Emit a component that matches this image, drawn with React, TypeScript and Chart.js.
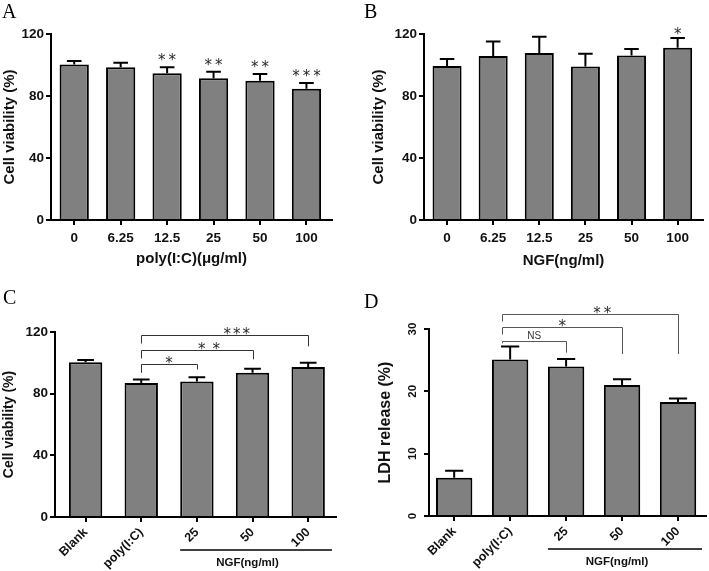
import React, { useEffect, useRef } from 'react';
import { Chart, registerables } from 'chart.js';

Chart.register(...registerables);

// ---------- data ----------
const doseLabels = ['0', '6.25', '12.5', '25', '50', '100'];

const polyMeans = [100.4, 98.5, 94.6, 91.4, 89.9, 84.6];
const polyErrors = [2.2, 3.0, 3.9, 4.3, 4.3, 3.8];
const polyStars = ['', '', '**', '**', '**', '***'];

const ngfMeans = [99.4, 105.8, 107.7, 99.1, 106.2, 111.2];
const ngfErrors = [4.4, 9.3, 10.6, 8.2, 4.1, 6.2];
const ngfStars = ['', '', '', '', '', '*'];

const groupLabels = ['Blank', 'poly(I:C)', '25', '50', '100'];

const viabilityMeans = [100.3, 86.9, 87.9, 93.6, 97.3];
const viabilityErrors = [1.6, 2.3, 2.8, 2.6, 2.8];
const viabilityBracketFrom = [1, 1, 1];
const viabilityBracketTo = [2, 3, 4];
const viabilityBracketY = [99.1, 108.6, 117.8];
const viabilityBracketLeftEnd = [93.5, 102.8, 112.5];
const viabilityBracketRightEnd = [95.7, 102.3, 110.7];
const viabilityBracketText = ['*', '**', '***'];

const ldhMeans = [6.15, 25.1, 24.0, 21.0, 18.3];
const ldhErrors = [1.1, 2.1, 1.2, 0.95, 0.55];
const ldhBracketFrom = [0.86, 0.86, 0.86];
const ldhBracketTo = [2, 3, 4];
const ldhBracketY = [28.1, 30.3, 32.4];
const ldhBracketLeftEnd = [27.7, 29.1, 31.2];
const ldhBracketRightEnd = [26.2, 26.0, 26.0];
const ldhBracketText = ['NS', '*', '**'];

const viabilityAxisMax = 120;
const viabilityAxisStep = 40;
const ldhAxisMax = 30;
const ldhAxisStep = 10;

// ---------- styling ----------
const SANS = '"Liberation Sans", Arial, sans-serif';
const STAR_FONT = '"DejaVu Sans", sans-serif';
const SERIF = '"Liberation Serif", "Times New Roman", serif';
const BAR_FILL = '#808080';

type Brackets = {
  from: number[]; to: number[]; y: number[]; leftEnd: number[]; rightEnd: number[]; text: string[];
  color: string; spacing: number[];
};

type PanelCfg = {
  key: string;
  letter: string; letterX: number; letterY: number;
  left: number; top: number; width: number; height: number;
  padTop: number; padRight: number; yAxisWidth: number; xAxisHeight: number;
  labels: string[]; means: number[]; errors: number[];
  xMin: number; xMax: number; yMax: number; yStep: number;
  barPct: number;
  stars?: string[]; starLift?: number;
  brackets?: Brackets;
  xTitle?: string; xTitlePad?: number;
  yTitle: string; yTitleSize: number; yTitlePad: number;
  xTickSize: number; xTickRotation: number; xTickPad: number;
  yTickSize: number; yTickRotation: number; yTickPad: number;
  ngf?: boolean;
};

const panels: PanelCfg[] = [
  {
    key: 'A', letter: 'A', letterX: 2, letterY: 18,
    left: 0, top: 0, width: 354, height: 285,
    padTop: 34, padRight: 22, yAxisWidth: 51, xAxisHeight: 65,
    labels: doseLabels, means: polyMeans, errors: polyErrors,
    xMin: -0.5, xMax: 5.55, yMax: viabilityAxisMax, yStep: viabilityAxisStep,
    barPct: 0.63, stars: polyStars, starLift: 8,
    xTitle: 'poly(I:C)(μg/ml)', xTitlePad: 17,
    yTitle: 'Cell viability (%)', yTitleSize: 15, yTitlePad: 1,
    xTickSize: 13.5, xTickRotation: 0, xTickPad: 5,
    yTickSize: 13.5, yTickRotation: 0, yTickPad: 2,
  },
  {
    key: 'B', letter: 'B', letterX: 10, letterY: 18,
    left: 354, top: 0, width: 355, height: 285,
    padTop: 34, padRight: 6, yAxisWidth: 70, xAxisHeight: 65,
    labels: doseLabels, means: ngfMeans, errors: ngfErrors,
    xMin: -0.5, xMax: 5.55, yMax: viabilityAxisMax, yStep: viabilityAxisStep,
    barPct: 0.63, stars: ngfStars, starLift: 5,
    xTitle: 'NGF(ng/ml)', xTitlePad: 15,
    yTitle: 'Cell viability (%)', yTitleSize: 15, yTitlePad: 16,
    xTickSize: 13.5, xTickRotation: 0, xTickPad: 5,
    yTickSize: 13.5, yTickRotation: 0, yTickPad: 2,
  },
  {
    key: 'C', letter: 'C', letterX: 3, letterY: 19,
    left: 0, top: 285, width: 354, height: 286,
    padTop: 47, padRight: 18, yAxisWidth: 55, xAxisHeight: 54,
    labels: groupLabels, means: viabilityMeans, errors: viabilityErrors,
    xMin: -0.55, xMax: 4.5, yMax: viabilityAxisMax, yStep: viabilityAxisStep,
    barPct: 0.6,
    brackets: {
      from: viabilityBracketFrom, to: viabilityBracketTo, y: viabilityBracketY,
      leftEnd: viabilityBracketLeftEnd, rightEnd: viabilityBracketRightEnd, text: viabilityBracketText,
      color: '#333', spacing: [2, 7, 2],
    },
    yTitle: 'Cell viability (%)', yTitleSize: 14, yTitlePad: 1,
    xTickSize: 12.5, xTickRotation: 45, xTickPad: 3,
    yTickSize: 13.5, yTickRotation: 0, yTickPad: 2,
    ngf: true,
  },
  {
    key: 'D', letter: 'D', letterX: 10, letterY: 23,
    left: 354, top: 285, width: 355, height: 286,
    padTop: 44, padRight: 3, yAxisWidth: 75, xAxisHeight: 55,
    labels: groupLabels, means: ldhMeans, errors: ldhErrors,
    xMin: -0.45, xMax: 4.5, yMax: ldhAxisMax, yStep: ldhAxisStep,
    barPct: 0.65,
    brackets: {
      from: ldhBracketFrom, to: ldhBracketTo, y: ldhBracketY,
      leftEnd: ldhBracketLeftEnd, rightEnd: ldhBracketRightEnd, text: ldhBracketText,
      color: '#555', spacing: [0, 2, 3],
    },
    yTitle: 'LDH release (%)', yTitleSize: 16, yTitlePad: 22,
    xTickSize: 12.5, xTickRotation: 45, xTickPad: 3,
    yTickSize: 11.5, yTickRotation: 90, yTickPad: 5,
    ngf: true,
  },
];

function drawStars(ctx: any, text: string, x: number, y: number, spacing: number) {
  ctx.save();
  ctx.font = `15px ${STAR_FONT}`;
  ctx.fillStyle = '#2a2a2a';
  ctx.textBaseline = 'alphabetic';
  ctx.textAlign = 'left';
  const w = ctx.measureText('*').width;
  const n = text.length;
  const total = n * w + (n - 1) * spacing;
  let cx = x - total / 2;
  for (let k = 0; k < n; k++) {
    ctx.fillText(text[k], cx, y);
    cx += w + spacing;
  }
  ctx.restore();
}

function makeDecor(cfg: PanelCfg) {
  return {
    id: 'decor' + cfg.key,
    afterDatasetsDraw(chart: any) {
      const ctx = chart.ctx;
      const ys = chart.scales.y;
      const meta = chart.getDatasetMeta(0);
      ctx.save();
      ctx.strokeStyle = '#000';
      ctx.lineWidth = 2;
      cfg.means.forEach((m, i) => {
        const el = meta.data[i];
        if (!el) return;
        const x = el.x;
        const w = el.width;
        const y0 = ys.getPixelForValue(m);
        const y1 = ys.getPixelForValue(m + cfg.errors[i]);
        ctx.beginPath();
        ctx.moveTo(x, y0);
        ctx.lineTo(x, y1);
        ctx.moveTo(x - w * 0.25, y1);
        ctx.lineTo(x + w * 0.25, y1);
        ctx.stroke();
      });
      ctx.restore();
    },
    afterDraw(chart: any) {
      const ctx = chart.ctx;
      const xs = chart.scales.x;
      const ys = chart.scales.y;
      const area = chart.chartArea;
      const meta = chart.getDatasetMeta(0);
      ctx.save();
      // significance stars above bars
      if (cfg.stars) {
        cfg.stars.forEach((s, i) => {
          if (!s) return;
          const el = meta.data[i];
          const y = ys.getPixelForValue(cfg.means[i] + cfg.errors[i]) - (cfg.starLift || 0) + 6;
          drawStars(ctx, s, el.x, y, 3);
        });
      }
      // brackets
      if (cfg.brackets) {
        const b = cfg.brackets;
        b.from.forEach((f, i) => {
          const x1 = xs.getPixelForValue(f);
          const x2 = xs.getPixelForValue(b.to[i]);
          const yh = ys.getPixelForValue(b.y[i]);
          const yl = ys.getPixelForValue(b.leftEnd[i]);
          const yr = ys.getPixelForValue(b.rightEnd[i]);
          ctx.strokeStyle = b.color;
          ctx.lineWidth = 1;
          ctx.beginPath();
          ctx.moveTo(Math.round(x1) + 0.5, yl);
          ctx.lineTo(Math.round(x1) + 0.5, Math.round(yh) + 0.5);
          ctx.lineTo(Math.round(x2) + 0.5, Math.round(yh) + 0.5);
          ctx.lineTo(Math.round(x2) + 0.5, yr);
          ctx.stroke();
          const t = b.text[i];
          if (t === 'NS') {
            ctx.fillStyle = '#333';
            ctx.textAlign = 'center';
            ctx.textBaseline = 'alphabetic';
            ctx.font = `10px ${SANS}`;
            ctx.fillText(t, (x1 + x2) / 2, yh - 2);
          } else {
            const multi = t.length > 1;
            drawStars(ctx, t, (x1 + x2) / 2 + (multi ? 12 : 0), yh + 4, b.spacing[i]);
          }
        });
      }
      // NGF group underline
      if (cfg.ngf) {
        const el = meta.data[2];
        const lx1 = xs.getPixelForValue(2) - (el ? el.width / 2 : 16);
        const lx2 = area.right - 4;
        const ly = area.bottom + 33;
        ctx.strokeStyle = '#000';
        ctx.lineWidth = 1.5;
        ctx.beginPath();
        ctx.moveTo(lx1, ly);
        ctx.lineTo(lx2, ly);
        ctx.stroke();
        ctx.fillStyle = '#111';
        ctx.font = `bold 11.5px ${SANS}`;
        ctx.textAlign = 'center';
        ctx.textBaseline = 'middle';
        ctx.fillText('NGF(ng/ml)', xs.getPixelForValue(3) - 5, ly + 13);
      }
      // panel letter
      ctx.fillStyle = '#000';
      ctx.font = `20px ${SERIF}`;
      ctx.textAlign = 'left';
      ctx.textBaseline = 'alphabetic';
      ctx.fillText(cfg.letter, cfg.letterX, cfg.letterY);
      ctx.restore();
    },
  };
}

function Panel({ cfg }: { cfg: PanelCfg }) {
  const ref = useRef<HTMLCanvasElement>(null);
  useEffect(() => {
    const canvas = ref.current;
    if (!canvas) return;
    const chart = new Chart(canvas, {
      type: 'bar',
      data: {
        datasets: [
          {
            data: cfg.means.map((v, i) => ({ x: i, y: v })),
            backgroundColor: BAR_FILL,
            borderColor: '#000',
            borderWidth: 2,
            borderSkipped: 'start',
            categoryPercentage: 1,
            barPercentage: cfg.barPct,
          } as any,
        ],
      },
      options: {
        animation: false,
        responsive: false,
        maintainAspectRatio: false,
        layout: { padding: { left: 0, top: cfg.padTop, right: cfg.padRight, bottom: 0 } },
        plugins: { legend: { display: false }, tooltip: { enabled: false } },
        scales: {
          x: {
            type: 'linear',
            min: cfg.xMin,
            max: cfg.xMax,
            offset: false,
            afterBuildTicks: (s: any) => {
              s.ticks = cfg.labels.map((_, i) => ({ value: i }));
            },
            afterFit: (s: any) => {
              s.height = cfg.xAxisHeight;
            },
            ticks: {
              autoSkip: false,
              callback: (v: any) => cfg.labels[v] ?? '',
              color: '#111',
              font: { family: SANS, size: cfg.xTickSize, weight: 'bold' },
              padding: cfg.xTickPad,
              minRotation: cfg.xTickRotation,
              maxRotation: cfg.xTickRotation,
            },
            grid: {
              display: true,
              offset: false,
              drawOnChartArea: false,
              drawTicks: true,
              tickLength: 5,
              color: '#000',
              lineWidth: 2,
            },
            border: { display: true, color: '#000', width: 2 },
            title: {
              display: !!cfg.xTitle,
              text: cfg.xTitle || '',
              color: '#111',
              font: { family: SANS, size: 15, weight: 'bold' },
              padding: { top: 0, bottom: cfg.xTitlePad || 0 },
            },
          } as any,
          y: {
            min: 0,
            max: cfg.yMax,
            afterFit: (s: any) => {
              s.width = cfg.yAxisWidth;
            },
            ticks: {
              stepSize: cfg.yStep,
              color: '#111',
              font: { family: SANS, size: cfg.yTickSize, weight: 'bold' },
              padding: cfg.yTickPad,
              minRotation: cfg.yTickRotation,
              maxRotation: cfg.yTickRotation,
              crossAlign: cfg.yTickRotation ? 'center' : 'near',
            },
            grid: {
              display: true,
              drawOnChartArea: false,
              drawTicks: true,
              tickLength: 5,
              color: '#000',
              lineWidth: 2,
            },
            border: { display: true, color: '#000', width: 2 },
            title: {
              display: true,
              text: cfg.yTitle,
              color: '#111',
              font: { family: SANS, size: cfg.yTitleSize, weight: 'bold' },
              padding: { top: cfg.yTitlePad, bottom: 0 },
            },
          } as any,
        },
      },
      plugins: [makeDecor(cfg)],
    });
    return () => chart.destroy();
  }, [cfg]);
  return (
    <canvas
      ref={ref}
      width={cfg.width}
      height={cfg.height}
      style={{ position: 'absolute', left: cfg.left, top: cfg.top, width: cfg.width, height: cfg.height, display: 'block' }}
    />
  );
}

export default function App() {
  return (
    <div style={{ position: 'absolute', left: 0, top: 0, width: 709, height: 571, background: '#fff', overflow: 'hidden' }}>
      {panels.map((p) => (
        <Panel key={p.key} cfg={p} />
      ))}
    </div>
  );
}
